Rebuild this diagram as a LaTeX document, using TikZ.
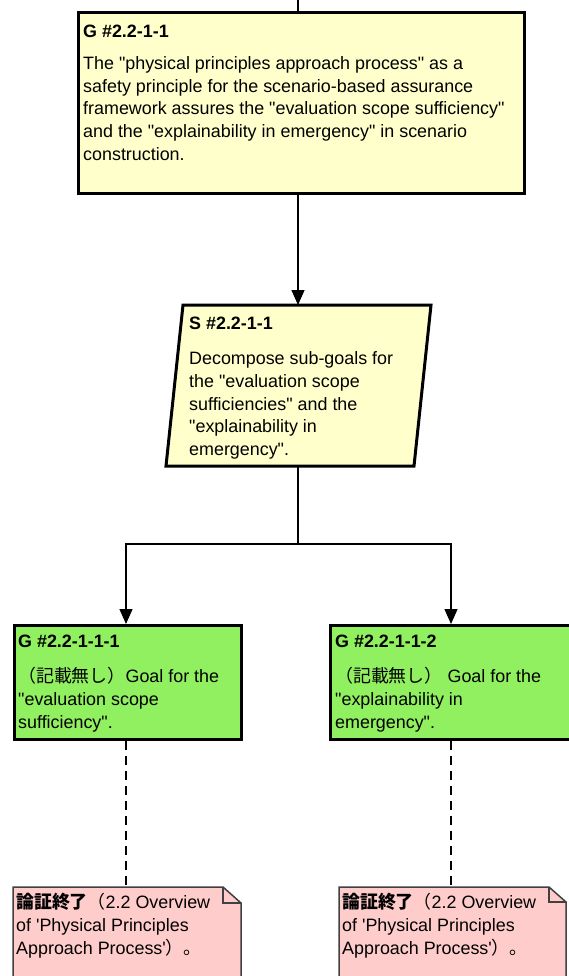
\documentclass[tikz,border=0pt]{standalone}
\usepackage{fontspec}
\setmainfont{Liberation Sans}[Ligatures=TeXOff]
\newfontfamily\cjk{Noto Sans CJK JP}
\usetikzlibrary{arrows.meta}
\definecolor{goalyellow}{RGB}{255,255,204}
\definecolor{goalgreen}{RGB}{144,240,96}
\definecolor{notepink}{RGB}{255,204,204}
\definecolor{notegray}{RGB}{64,64,64}
\newcommand\fst{\rule{0pt}{16pt}}
\tikzset{
  boxbase/.style={draw=black, line width=3pt, inner sep=0pt, anchor=north west, rectangle},
  yellowbox/.style={boxbase, fill=goalyellow},
  greenbox/.style={boxbase, fill=goalgreen},
  notebox/.style={draw=notegray, line width=1.5pt, fill=notepink},
  txt/.style={inner sep=0pt, anchor=north west, align=left,
    font=\fontsize{17.9pt}{22.9pt}\selectfont},
  conn/.style={draw=black, line width=1.3pt},
  arr/.style={conn, -{Triangle[length=15pt,width=13pt]}},
  dashconn/.style={draw=black, line width=1.5pt, dash pattern=on 9pt off 6pt},
}
\begin{document}
\begin{tikzpicture}[x=1pt,y=-1pt]
\useasboundingbox (0,0) rectangle (568,976);

% top goal
\node[yellowbox, minimum width=446pt, minimum height=181pt] (G1) at (77,11) {};
\node[txt] (G1t) at (83,21) {\fst\bfseries G \#2.2-1-1};
\node[txt] (G1b) at (83,53) {\fst The "physical principles approach process" as a\\
safety principle for the scenario-based assurance\\
framework assures the "evaluation scope sufficiency"\\
and the "explainability in emergency" in scenario\\
construction.};

% strategy parallelogram
\coordinate (Stl) at (183,305);
\coordinate (Str) at (431,305);
\coordinate (Sbr) at (414,466);
\coordinate (Sbl) at (166,466);
\filldraw[draw=black, fill=goalyellow, line width=3pt, line join=miter]
  (Stl) -- (Str) -- (Sbr) -- (Sbl) -- cycle;
\coordinate (Stop) at (298,305);
\coordinate (Sbot) at (298,466);
\node[txt] (St) at (189,313) {\fst\bfseries S \#2.2-1-1};
\node[txt] (Sb) at (189,348) {\fst Decompose sub-goals for\\
the "evaluation scope\\
sufficiencies" and the\\
"explainability in\\
emergency".};

% sub goals
\node[greenbox, minimum width=227pt, minimum height=114pt] (G2a) at (13,624) {};
\node[greenbox, minimum width=244pt, minimum height=114pt] (G2b) at (329,624) {};
\node[txt] (G2at) at (18,631) {\fst\bfseries G \#2.2-1-1-1};
\node[txt] (G2ab) at (18,666) {\fst{\cjk （記載無し）}Goal for the\\
"evaluation scope\\
sufficiency".};
\node[txt] (G2bt) at (335,631) {\fst\bfseries G \#2.2-1-1-2};
\node[txt] (G2bb) at (335,666) {\fst{\cjk （記載無し）} Goal for the\\
"explainability in\\
emergency".};

% notes
\filldraw[notebox] (13,887) -- (223,887) -- (241,903) -- (241,985) -- (13,985) -- cycle;
\draw[draw=notegray, line width=1.5pt] (223,887) -- (223,903) -- (241,903);
\filldraw[notebox] (339,887) -- (549,887) -- (566,902) -- (566,985) -- (339,985) -- cycle;
\draw[draw=notegray, line width=1.5pt] (549,887) -- (549,902) -- (566,902);
\coordinate (N1top) at (126,887);
\coordinate (N2top) at (451,887);
\node[txt] (N1) at (16,892) {\fst{\cjk\bfseries 論証終了}{\cjk （}2.2 Overview\\
of 'Physical Principles\\
Approach Process'{\cjk ）。}};
\node[txt] (N2) at (342,892) {\fst{\cjk\bfseries 論証終了}{\cjk （}2.2 Overview\\
of 'Physical Principles\\
Approach Process'{\cjk ）。}};

% connectors
\coordinate (topin) at (298,0);
\draw[conn] (topin) -- (topin |- G1.north);
\draw[arr] (G1.south -| Stop) -- (Stop);
\coordinate (split) at (298,544);
\draw[conn] (Sbot) -- (split);
\draw[arr] (split) -| (G2a.north -| 126,0);
\draw[arr] (split) -| (G2b.north -| 451,0);
\draw[dashconn] (G2a.south -| N1top) -- (N1top);
\draw[dashconn] (G2b.south -| N2top) -- (N2top);
\end{tikzpicture}
\end{document}
